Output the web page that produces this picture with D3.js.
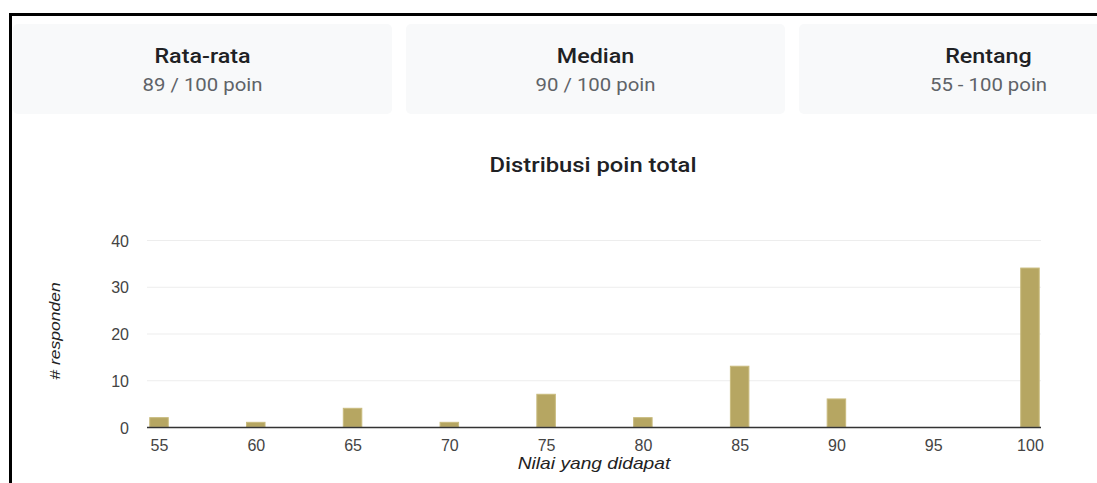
<!DOCTYPE html>
<html>
<head>
<meta charset="utf-8">
<script src="https://cdn.jsdelivr.net/npm/d3@7"></script>
<style>
  body { margin: 0; background: #fff; }
  svg { display: block; }
</style>
</head>
<body>
<div id="chart"></div>
<script>
// summary cards
var cardTitles = ["Rata-rata", "Median", "Rentang"];
var cardValues = ["89 / 100 poin", "90 / 100 poin", "55 - 100 poin"];

// histogram data
var scores = [55, 60, 65, 70, 75, 80, 85, 90, 95, 100];
var counts = [2, 1, 4, 1, 7, 2, 13, 6, 0, 34];
var yTicks = [0, 10, 20, 30, 40];

var width = 1097, height = 483;

var svg = d3.select("#chart").append("svg")
    .attr("width", width)
    .attr("height", height);

/* the screenshot's text is wider than our fonts, so stretch it a bit horizontally */
function label(parent, x, y, sx, txt) {
  return parent.append("text")
    .attr("transform", "translate(" + x + "," + y + ") scale(" + sx + ",1)")
    .attr("text-anchor", "middle")
    .text(txt);
}

// frame (black border top + left)
svg.append("rect").attr("x", 9).attr("y", 13).attr("width", width).attr("height", 3).style("fill", "#000");
svg.append("rect").attr("x", 9).attr("y", 13).attr("width", 3).attr("height", height).style("fill", "#000");

// cards
var cardX = d3.scaleBand().domain(cardTitles).range([13, 1178]).paddingInner(0.0356);
var cards = svg.selectAll("g.card").data(cardTitles).enter().append("g")
    .attr("class", "card")
    .attr("transform", function(d) { return "translate(" + cardX(d) + ",24)"; });
cards.append("rect")
    .attr("width", cardX.bandwidth()).attr("height", 90)
    .attr("rx", 5)
    .style("fill", "#f8f9fa");
cards.each(function(d, i) {
  var g = d3.select(this);
  label(g, cardX.bandwidth() / 2, 39, 1.165, d)
    .style("font-family", "Roboto").style("font-size", "20px").style("font-weight", 500)
    .style("fill", "#202124");
  label(g, cardX.bandwidth() / 2, 67, 1.1, cardValues[i])
    .style("font-family", "Roboto").style("font-size", "18.5px")
    .style("fill", "#5f6368");
});

// chart title
label(svg, 593, 172, 1.16, "Distribusi poin total")
    .style("font-family", "Roboto").style("font-size", "20.5px").style("font-weight", 500)
    .style("fill", "#202124");

var x = d3.scaleLinear().domain([54.38, 100.57]).range([147, 1041]);
var y = d3.scaleLinear().domain([0, 40]).range([427, 240]);
var barW = 18.5;

// gridlines
svg.append("g").selectAll("line").data(yTicks.filter(function(t) { return t > 0; })).enter().append("line")
    .attr("x1", x.range()[0]).attr("x2", x.range()[1])
    .attr("y1", function(d) { return y(d) + 0.5; }).attr("y2", function(d) { return y(d) + 0.5; })
    .style("stroke", "#ededed").style("stroke-width", 1);

// y axis labels
var yAxis = d3.axisLeft(y).tickValues(yTicks).tickSize(0).tickPadding(0);
var gy = svg.append("g").attr("transform", "translate(129,1)").call(yAxis);
gy.select(".domain").remove();
gy.selectAll("text")
    .style("font-family", "Liberation Sans, Arial").style("font-size", "16px").style("fill", "#444");

// bars
svg.append("g").selectAll("rect").data(scores).enter().append("rect")
    .attr("x", function(d) { return x(d) - barW / 2; })
    .attr("y", function(d, i) { return y(counts[i]); })
    .attr("width", barW)
    .attr("height", function(d, i) { return y(0) - y(counts[i]); })
    .style("fill", "#b6a662")
    .style("stroke", "#c9bb7e").style("stroke-width", 1);

// baseline
svg.append("line")
    .attr("x1", x.range()[0]).attr("x2", x.range()[1])
    .attr("y1", y(0) + 0.5).attr("y2", y(0) + 0.5)
    .style("stroke", "#333").style("stroke-width", 1.5);

// x axis labels
var xAxis = d3.axisBottom(x).tickValues(scores).tickSize(0).tickPadding(0).tickFormat(d3.format("d"));
var gx = svg.append("g").attr("transform", "translate(0,451)").call(xAxis);
gx.select(".domain").remove();
gx.selectAll("text")
    .attr("dy", 0)
    .style("font-family", "Liberation Sans, Arial").style("font-size", "16px").style("fill", "#444");

// axis titles
label(svg, 594, 469, 1.2, "Nilai yang didapat")
    .style("font-family", "Liberation Sans, Arial").style("font-size", "16px").style("font-style", "italic")
    .style("fill", "#222");
svg.append("text")
    .attr("transform", "translate(60,331) rotate(-90) scale(1.17,1)")
    .attr("text-anchor", "middle")
    .style("font-family", "Liberation Sans, Arial").style("font-size", "15px").style("font-style", "italic")
    .style("fill", "#222")
    .text("# responden");
</script>
</body>
</html>
